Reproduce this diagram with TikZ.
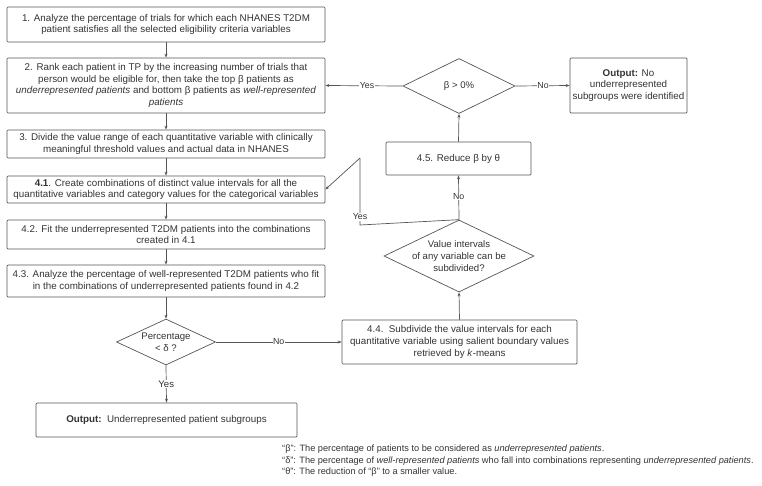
\documentclass[tikz,border=0pt]{standalone}
\usepackage{fontspec}
\setmainfont{Liberation Sans}
\usetikzlibrary{arrows.meta,shapes.geometric}
\definecolor{linec}{HTML}{555555}
\definecolor{txt}{HTML}{333333}
\begin{document}
\begin{tikzpicture}[x=1pt,y=-1pt,
  box/.style={draw=linec, line width=0.7pt, rounded corners=1pt, align=center, text=txt,
    font=\fontsize{9.8}{11.7}\selectfont, inner sep=1pt},
  dia/.style={draw=linec, line width=0.7pt, diamond, inner sep=0pt},
  dtext/.style={align=center, text=txt, font=\fontsize{9.6}{11.7}\selectfont},
  conn/.style={draw=linec, line width=0.7pt, -{Stealth[length=4pt,width=3pt]}},
  plain/.style={draw=linec, line width=0.7pt},
  lbl/.style={fill=white, text=txt, font=\fontsize{8.8}{10}\selectfont, inner sep=0.5pt}]
\useasboundingbox (0,0) rectangle (762,485);

% left column
\node[box, minimum width=318pt, minimum height=35pt] (b1) at (166,24.5)
  {1. Analyze the percentage of trials for which each NHANES T2DM\\patient satisfies all the selected eligibility criteria variables};
\node[box, minimum width=318pt, minimum height=55pt] (b2) at (166,85.5)
  {2. Rank each patient in TP by the increasing number of trials that\\person would be eligible for, then take the top β patients as\\\textit{underrepresented patients} and bottom β patients as \textit{well-represented}\\\textit{patients}};
\node[box, minimum width=318pt, minimum height=28pt] (b3) at (166,144)
  {3. Divide the value range of each quantitative variable with clinically\\meaningful threshold values and actual data in NHANES};
\node[box, minimum width=318pt, minimum height=27pt] (b41) at (166,189.5)
  {\textbf{4.1}. Create combinations of distinct value intervals for all the\\quantitative variables and category values for the categorical variables};
\node[box, minimum width=318pt, minimum height=29pt] (b42) at (166,234.5)
  {4.2. Fit the underrepresented T2DM patients into the combinations\\created in 4.1};
\node[box, minimum width=318pt, minimum height=32pt] (b43) at (166,281)
  {4.3. Analyze the percentage of well-represented T2DM patients who fit\\in the combinations of underrepresented patients found in 4.2};
\node[dia, minimum width=99pt, minimum height=46pt] (d1) at (166,342) {};
\node[dtext] (d1t) at (d1.center) {Percentage\\< δ ?};
\node[box, minimum width=261pt, minimum height=34pt] (out1) at (166.5,420)
  {\textbf{Output:}\ \ Underrepresented patient subgroups};

% right column
\node[box, minimum width=235pt, minimum height=44pt] (b44) at (459.5,342)
  {4.4.\ \ Subdivide the value intervals for each\\quantitative variable using salient boundary values\\retrieved by \textit{k}-means};
\node[dia, minimum width=150pt, minimum height=72pt] (d2) at (459,256) {};
\node[dtext] (d2t) at (d2.center) {Value intervals\\of any variable can be\\subdivided?};
\node[box, minimum width=145pt, minimum height=33pt] (b45) at (458.5,158.5)
  {4.5. Reduce β by θ};
\node[dia, minimum width=112pt, minimum height=55pt] (d3) at (459,86) {};
\node[dtext] (d3t) at (d3.center) {β > 0\%};
\node[box, minimum width=117pt, minimum height=55pt] (out2) at (628.5,85.5)
  {\textbf{Output:} No\\underrepresented\\subgroups were identified};

% connectors
\draw[conn] (b1.south) -- (b2.north);
\draw[conn] (b2.south) -- (b3.north);
\draw[conn] (b3.south) -- (b41.north);
\draw[conn] (b41.south) -- (b42.north);
\draw[conn] (b42.south) -- (b43.north);
\draw[conn] (b43.south) -- (d1.north);
\draw[conn] (d1.south) -- node[lbl, font=\fontsize{9.6}{11}\selectfont] {Yes} (out1.north);
\draw[conn] (d1.east) -- node[lbl, pos=0.5] {No} (b44.west);
\draw[conn] (b44.north) -- (d2.south);
\draw[conn] (d2.north) -- node[lbl, pos=0.52] {No} (b45.south);
\draw[conn] (b45.north) -- (d3.south);
\draw[conn] (d3.west) -- node[lbl, pos=0.46] {Yes} (b2.east);
\draw[conn] (d3.east) -- node[lbl, pos=0.51] {No} (out2.west);
\coordinate (y1) at (360,225);
\coordinate (y2) at (360,158);
\draw[plain] (d2.north) -- (y1) -- node[lbl, pos=0.12] {Yes} (y2);
\draw[conn] (y2) -- (b41.east);

% footnote
\node[anchor=north west, align=left, text=txt, font=\fontsize{9.2}{11.5}\selectfont, inner sep=0pt] (fn) at (282,445)
  {“β”: The percentage of patients to be considered as \textit{underrepresented patients}.\\
   “δ”: The percentage of \textit{well-represented patients} who fall into combinations representing \textit{underrepresented patients}.\\
   “θ”: The reduction of “β” to a smaller value.};
\end{tikzpicture}
\end{document}
